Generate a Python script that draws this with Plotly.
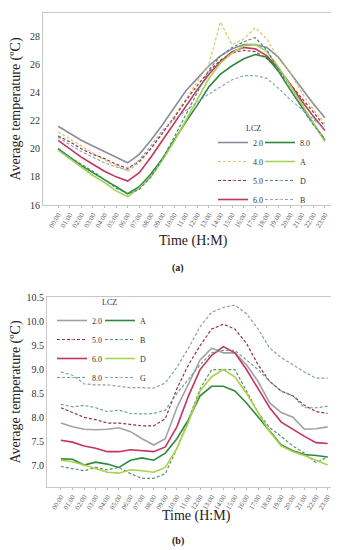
import plotly.graph_objects as go

hours = ["00:00", "01:00", "02:00", "03:00", "04:00", "05:00", "06:00", "07:00",
         "08:00", "09:00", "10:00", "11:00", "12:00", "13:00", "14:00", "15:00",
         "16:00", "17:00", "18:00", "19:00", "20:00", "21:00", "22:00", "23:00"]

# ---- panel (a) ----
a_20 = [21.6, 21.1, 20.6, 20.2, 19.8, 19.4, 19.0, 19.6, 20.6, 21.7, 22.9, 24.1,
        25.0, 25.9, 26.6, 27.1, 27.4, 27.4, 27.2, 26.5, 25.4, 24.3, 23.2, 22.2]
a_40 = [21.2, 20.7, 20.2, 19.7, 19.2, 18.8, 18.4, 19.0, 20.0, 21.1, 22.3, 23.5,
        24.8, 26.0, 29.0, 27.4, 27.8, 28.6, 27.8, 26.4, 25.4, 24.0, 22.8, 21.8]
a_50 = [20.9, 20.5, 20.0, 19.6, 19.3, 18.9, 18.6, 19.1, 20.0, 21.1, 22.2, 23.4,
        24.5, 25.5, 26.3, 26.8, 27.0, 26.9, 26.4, 25.6, 24.6, 23.6, 22.6, 21.6]
a_60 = [20.6, 20.0, 19.4, 18.9, 18.4, 18.0, 17.7, 18.3, 19.4, 20.6, 21.8, 23.0,
        24.2, 25.3, 26.2, 26.9, 27.2, 27.1, 26.6, 25.7, 24.6, 23.4, 22.3, 21.3]
a_80 = [20.0, 19.4, 18.8, 18.3, 17.8, 17.3, 16.8, 17.3, 18.2, 19.3, 20.6, 21.9,
        23.1, 24.4, 25.3, 25.9, 26.4, 26.7, 26.5, 25.5, 24.2, 23.0, 21.8, 20.6]
a_A = [19.9, 19.3, 18.7, 18.1, 17.6, 17.0, 16.6, 17.2, 18.0, 19.2, 20.5, 22.0,
       23.6, 25.0, 26.1, 26.8, 27.3, 27.4, 26.9, 25.8, 24.5, 23.2, 21.9, 20.5]
a_D = [20.0, 19.4, 18.9, 18.4, 17.8, 17.2, 16.8, 17.1, 18.0, 19.3, 20.8, 22.4,
       24.0, 25.6, 26.6, 27.2, 27.6, 27.9, 27.0, 25.6, 24.2, 22.9, 21.7, 20.7]
a_B = [20.8, 20.3, 19.8, 19.4, 19.0, 18.7, 18.5, 19.2, 20.2, 21.3, 22.1, 22.7,
       23.3, 23.9, 24.4, 24.9, 25.2, 25.2, 25.0, 24.3, 23.5, 22.8, 22.1, 21.4]

# ---- panel (b) ----
b_20 = [7.88, 7.80, 7.75, 7.74, 7.75, 7.78, 7.70, 7.55, 7.42, 7.55, 8.20, 8.70,
        9.20, 9.45, 9.35, 9.35, 9.10, 8.75, 8.30, 8.10, 8.00, 7.75, 7.76, 7.80]
b_50 = [8.20, 8.10, 8.00, 7.95, 7.88, 7.88, 7.85, 7.82, 7.82, 7.97, 8.60, 9.10,
        9.50, 9.85, 9.95, 9.85, 9.55, 9.10, 8.75, 8.55, 8.45, 8.25, 8.12, 8.08]
b_60 = [7.52, 7.48, 7.40, 7.35, 7.28, 7.28, 7.32, 7.30, 7.28, 7.38, 7.80, 8.45,
        9.00, 9.30, 9.48, 9.35, 9.00, 8.60, 8.20, 7.90, 7.75, 7.60, 7.47, 7.45]
b_80 = [8.27, 8.22, 8.25, 8.20, 8.12, 8.15, 8.08, 8.07, 8.08, 8.15, 8.50, 8.80,
        9.10, 9.35, 9.40, 9.40, 9.20, 9.00, 8.75, 8.55, 8.45, 8.20, 8.20, 8.23]
b_A = [7.13, 7.12, 7.00, 7.06, 7.02, 6.95, 7.10, 7.15, 7.10, 7.25, 7.55, 7.95,
       8.45, 8.65, 8.65, 8.55, 8.30, 8.00, 7.70, 7.42, 7.30, 7.22, 7.20, 7.17]
b_B = [6.97, 6.92, 6.88, 6.95, 6.90, 6.95, 6.82, 6.72, 6.72, 6.82, 7.35, 7.95,
       8.60, 9.00, 9.00, 9.00, 8.55, 8.10, 7.78, 7.60, 7.40, 7.25, 7.05, 7.17]
b_D = [7.10, 7.07, 7.00, 6.93, 6.85, 6.83, 6.90, 6.88, 6.85, 6.95, 7.35, 7.90,
       8.55, 8.85, 9.00, 8.85, 8.50, 8.10, 7.70, 7.40, 7.28, 7.20, 7.10, 7.00]
b_G = [8.95, 8.88, 8.70, 8.68, 8.68, 8.65, 8.62, 8.62, 8.61, 8.72, 9.05, 9.45,
       9.90, 10.20, 10.30, 10.35, 10.17, 9.85, 9.45, 9.25, 9.10, 8.95, 8.82, 8.82]

SERIF = "'Liberation Serif', 'Times New Roman', 'DejaVu Serif', serif"
W, H = 339, 550

def px_x(p):
    return min(1.0, max(0.0, p / W))

def px_y(p):
    return min(1.0, max(0.0, 1 - p / H))

fig = go.Figure()

def add(x_ax, y_ax, name, vals, color, dash, legend, rank, marker=False):
    fig.add_trace(go.Scatter(
        x=hours, y=vals, name=name, xaxis=x_ax, yaxis=y_ax,
        mode="lines+markers" if marker else "lines",
        line=dict(color=color, width=1.2 if dash else 1.6,
                  dash="3px,2px" if dash else "solid"),
        marker=dict(size=[0] * len(vals), color=color) if marker else None,
        legend=legend, legendrank=rank, hoverinfo="skip"))

# panel (a) traces
add("x", "y", "2.0", a_20, "#8c8c9c", False, "legend", 1)
add("x", "y", "4.0", a_40, "#dcc46a", True, "legend", 2, True)
add("x", "y", "5.0", a_50, "#8e3b3b", True, "legend", 3, True)
add("x", "y", "6.0", a_60, "#c4345c", False, "legend", 4)
add("x", "y", "8.0", a_80, "#2f8a3c", False, "legend2", 5)
add("x", "y", "A", a_A, "#a3d45a", False, "legend2", 6)
add("x", "y", "D", a_D, "#4f8f78", True, "legend2", 7, True)
add("x", "y", "B", a_B, "#8aa6c4", True, "legend2", 8, True)

# panel (b) traces
add("x2", "y2", "2.0", b_20, "#a2a2a2", False, "legend3", 1)
add("x2", "y2", "5.0", b_50, "#8e3440", True, "legend3", 2, True)
add("x2", "y2", "6.0", b_60, "#c8325e", False, "legend3", 3)
add("x2", "y2", "8.0", b_80, "#6f9ea4", True, "legend3", 4, True)
add("x2", "y2", "A", b_A, "#2e8b3e", False, "legend4", 5)
add("x2", "y2", "B", b_B, "#5e9070", True, "legend4", 6, True)
add("x2", "y2", "D", b_D, "#aad24a", False, "legend4", 7)
add("x2", "y2", "G", b_G, "#8c9cb8", True, "legend4", 8, True)

axis_common = dict(
    showgrid=False, zeroline=False, showline=True, mirror=True,
    linecolor="#c8c8c8", linewidth=1, automargin=False,
    tickfont=dict(family=SERIF, size=10, color="#333"),
)

xcommon = dict(axis_common, type="category", tickangle=-58, ticks="outside",
               ticklen=2, tickcolor="#bbb",
               tickfont=dict(family=SERIF, size=7, color="#555"))
ycommon = dict(axis_common, ticks="", title=dict(
    text="Average temperature (ºC)", font=dict(family=SERIF, size=14, color="#222"), standoff=6))

legend_common = dict(
    font=dict(family=SERIF, size=8, color="#333"), bgcolor="rgba(0,0,0,0)",
    orientation="v", xanchor="left", yanchor="top", itemwidth=30,
    tracegroupgap=0, traceorder="normal")

title_font = dict(family=SERIF, size=14, color="#222")

fig.update_layout(
    width=W, height=H, paper_bgcolor="white", plot_bgcolor="white",
    margin=dict(l=0, r=0, t=0, b=0), showlegend=True,
    xaxis=dict(xcommon, domain=[px_x(35), px_x(332)], anchor="y", range=[-1.3, 24.3]),
    yaxis=dict(ycommon, domain=[px_y(197), px_y(5)], anchor="x", range=[16, 29.65],
               tickvals=[16, 18, 20, 22, 24, 26, 28]),
    xaxis2=dict(xcommon, domain=[px_x(39), px_x(333)], anchor="y2", range=[-1.2, 24.15]),
    yaxis2=dict(ycommon, domain=[px_y(479), px_y(289)], anchor="x2", range=[6.54, 10.52],
                tickvals=[7.0, 7.5, 8.0, 8.5, 9.0, 9.5, 10.0, 10.5], tickformat=".1f"),
    legend=dict(legend_common, x=px_x(205), y=px_y(120)),
    legend2=dict(legend_common, x=px_x(252), y=px_y(120)),
    legend3=dict(legend_common, x=px_x(44), y=px_y(298)),
    legend4=dict(legend_common, x=px_x(92), y=px_y(298)),
    annotations=[
        dict(text="Time (H:M)", x=px_x(185), y=px_y(233), xref="paper", yref="paper",
             showarrow=False, font=title_font),
        dict(text="Time (H:M)", x=px_x(188), y=px_y(518), xref="paper", yref="paper",
             showarrow=False, font=title_font),
        dict(text="LCZ", x=px_x(255), y=px_y(114), xref="paper", yref="paper",
             showarrow=False, font=dict(family=SERIF, size=8, color="#333")),
        dict(text="LCZ", x=px_x(92), y=px_y(294), xref="paper", yref="paper",
             showarrow=False, font=dict(family=SERIF, size=8, color="#333")),
        dict(text="<b>(a)</b>", x=px_x(170), y=px_y(260), xref="paper", yref="paper",
             showarrow=False, font=dict(family=SERIF, size=10, color="#222")),
        dict(text="<b>(b)</b>", x=px_x(170), y=px_y(541), xref="paper", yref="paper",
             showarrow=False, font=dict(family=SERIF, size=10, color="#222")),
    ],
)

fig.write_html("out.html")
